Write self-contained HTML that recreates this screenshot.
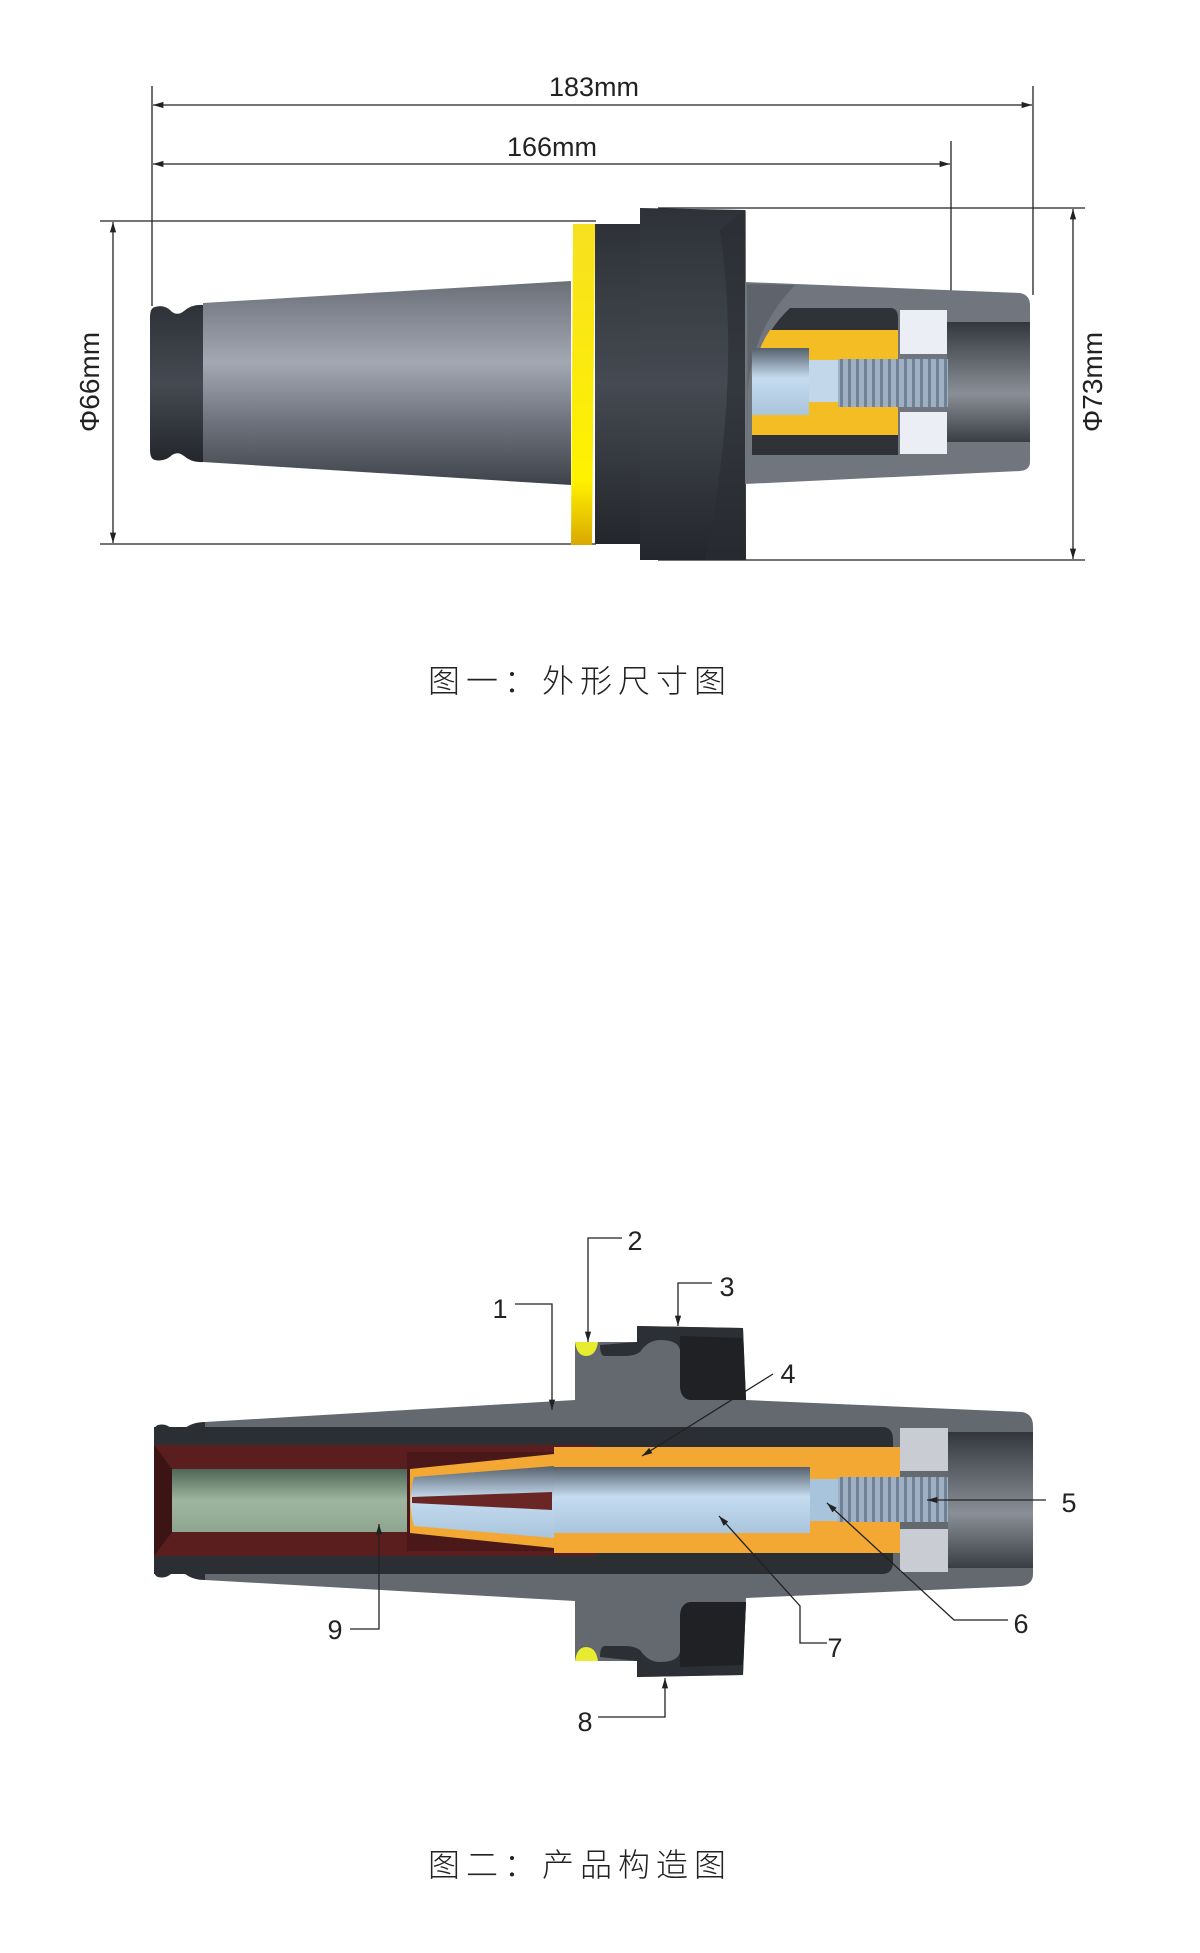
<!DOCTYPE html>
<html><head><meta charset="utf-8"><style>
html,body{margin:0;padding:0;background:#fff}
svg{display:block}
.t{font-family:"Liberation Sans",Arial,sans-serif;fill:#222}
.c{font-family:"Liberation Sans","Noto Sans CJK SC",sans-serif;font-size:32px;font-weight:300;fill:#222;letter-spacing:6px}
</style></head><body>
<svg width="1200" height="1953" viewBox="0 0 1200 1953" xmlns="http://www.w3.org/2000/svg">
<defs>
<linearGradient id="cone" x1="0" y1="0" x2="0" y2="1">
<stop offset="0" stop-color="#6a6f78"/><stop offset="0.4" stop-color="#a3a8b3"/><stop offset="0.7" stop-color="#6c717b"/><stop offset="1" stop-color="#3e434b"/></linearGradient>
<linearGradient id="dark" x1="0" y1="0" x2="0" y2="1">
<stop offset="0" stop-color="#2e3238"/><stop offset="0.5" stop-color="#454a52"/><stop offset="1" stop-color="#23262b"/></linearGradient>
<linearGradient id="yel" x1="0" y1="0" x2="0" y2="1">
<stop offset="0" stop-color="#f7e020"/><stop offset="0.8" stop-color="#fff200"/><stop offset="1" stop-color="#d9a800"/></linearGradient>
<linearGradient id="steel" x1="0" y1="0" x2="0" y2="1">
<stop offset="0" stop-color="#56606c"/><stop offset="0.45" stop-color="#c5dcf0"/><stop offset="1" stop-color="#a9c4dc"/></linearGradient>
<linearGradient id="green" x1="0" y1="0" x2="0" y2="1">
<stop offset="0" stop-color="#4e6656"/><stop offset="0.5" stop-color="#9fb59f"/><stop offset="1" stop-color="#8ea68f"/></linearGradient>
<linearGradient id="nose" x1="0" y1="0" x2="0" y2="1">
<stop offset="0" stop-color="#33373d"/><stop offset="0.6" stop-color="#8a8f97"/><stop offset="1" stop-color="#3a3e44"/></linearGradient>
<pattern id="thr" width="8" height="10" patternUnits="userSpaceOnUse"><rect width="8" height="10" fill="#9fb0c2"/><rect width="3" height="10" fill="#6f8196"/></pattern>
<marker id="ar" viewBox="0 0 10 10" refX="10" refY="5" markerWidth="8" markerHeight="8" orient="auto-start-reverse"><path d="M0,2 L10,5 L0,8 z" fill="#222"/></marker>
</defs>

<!-- ===== Figure 1 ===== -->
<g stroke="#222" stroke-width="1.3" fill="none">
<line x1="152" y1="86" x2="152" y2="306"/>
<line x1="1033" y1="86" x2="1033" y2="295"/>
<line x1="951" y1="141" x2="951" y2="332"/>
<line x1="153" y1="105" x2="1032" y2="105" marker-start="url(#ar)" marker-end="url(#ar)"/>
<line x1="153" y1="164" x2="950" y2="164" marker-start="url(#ar)" marker-end="url(#ar)"/>
<line x1="100" y1="221" x2="596" y2="221"/>
<line x1="100" y1="544" x2="596" y2="544"/>
<line x1="113" y1="222" x2="113" y2="543" marker-start="url(#ar)" marker-end="url(#ar)"/>
<line x1="658" y1="208" x2="1085" y2="208"/>
<line x1="658" y1="560" x2="1085" y2="560"/>
<line x1="1073" y1="209" x2="1073" y2="559" marker-start="url(#ar)" marker-end="url(#ar)"/>
</g>
<text class="t" x="594" y="96" font-size="27" text-anchor="middle">183mm</text>
<text class="t" x="552" y="156" font-size="27" text-anchor="middle">166mm</text>
<text class="t" font-size="28" text-anchor="middle" transform="translate(99,382) rotate(-90)">Φ66mm</text>
<text class="t" font-size="28" text-anchor="middle" transform="translate(1102,382) rotate(-90)">Φ73mm</text>

<path d="M155,307 Q165,304 172,312 Q178,316 184,311 Q192,304 203,305 L203,462 Q192,463 184,456 Q178,451 172,455 Q165,462 155,460 Q150,459 150,450 L150,317 Q150,308 155,307 Z" fill="url(#dark)"/>
<path d="M203,303 L571,281 L571,485 L203,462 Z" fill="url(#cone)"/>
<path d="M573,224 L595,224 L592,545 L571,545 Z" fill="url(#yel)"/>
<rect x="595" y="224" width="45" height="320" fill="url(#dark)"/>
<path d="M640,208 L745,210 L746,560 L640,560 Z" fill="url(#dark)"/>
<path d="M720,230 Q742,380 705,560 L746,560 L746,210 Z" fill="#2a2d32" opacity="0.6"/>
<path d="M745,282 L1020,293 Q1030,295 1030,305 L1030,462 Q1030,470 1020,471 L745,484 Z" fill="#71767e"/>
<path d="M947,322 L1030,322 L1030,442 L947,442 Z" fill="url(#nose)"/>
<path d="M795,285 Q752,330 748,390 L748,483 L747,284 Z" fill="#5f646c"/>
<path d="M790,308 L890,308 Q898,308 898,318 L898,455 L752,455 L752,390 Q756,340 790,308 Z" fill="#2f3338"/>
<path d="M770,330 L898,330 L898,435 L752,435 L752,380 Q756,350 770,330 Z" fill="#f5bd24"/>
<rect x="752" y="348" width="57" height="67" fill="url(#steel)"/>
<rect x="809" y="360" width="29" height="42" fill="#c2d8ea"/>
<rect x="838" y="359" width="110" height="48" fill="url(#thr)"/>
<rect x="900" y="310" width="47" height="44" fill="#ebeff5"/>
<rect x="900" y="412" width="47" height="42" fill="#ebeff5"/>

<text class="c" x="428" y="692">图一：外形尺寸图</text>

<!-- ===== Figure 2 ===== -->
<path d="M205,1422 L575,1400 L575,1342 L637,1342 L637,1326 L743,1328 L746,1400 L1022,1412 Q1033,1414 1033,1426 L1033,1574 Q1033,1584 1022,1586 L746,1598 L743,1675 L637,1677 L637,1661 L575,1661 L575,1601 L205,1580 Z" fill="#64686f"/>
<path d="M637,1326 L743,1328 L746,1400 L690,1400 Q680,1398 680,1385 L680,1350 Q678,1340 660,1340 Q648,1340 640,1352 Q634,1356 625,1356 L605,1356 Q600,1356 600,1345 L637,1342 Z" fill="#2c2f34"/>
<path d="M680,1336 L743,1338 L746,1400 L690,1400 Q680,1398 680,1385 Z" fill="#1f2125"/>
<path d="M637,1677 L743,1675 L746,1602 L690,1602 Q680,1604 680,1617 L680,1652 Q678,1662 660,1662 Q648,1662 640,1650 Q634,1646 625,1646 L605,1646 Q600,1646 600,1657 L637,1661 Z" fill="#2c2f34"/>
<path d="M680,1667 L743,1665 L746,1602 L690,1602 Q680,1604 680,1617 Z" fill="#1f2125"/>
<path d="M575,1342 L598,1342 Q596,1356 586,1356 Q577,1356 575,1342 Z" fill="#e8ec30"/>
<path d="M575,1661 L598,1661 Q596,1647 586,1647 Q577,1647 575,1661 Z" fill="#e8ec30"/>
<path d="M158,1425 Q166,1423 172,1429 Q178,1433 184,1429 Q192,1422 205,1422 L205,1580 Q192,1580 184,1573 Q178,1569 172,1573 Q166,1579 158,1577 Q154,1576 154,1568 L154,1434 Q154,1426 158,1425 Z" fill="#2b2e33"/>
<path d="M154,1427 L882,1427 Q893,1427 893,1440 L893,1562 Q893,1574 882,1574 L154,1574 Z" fill="#2b2e33"/>
<rect x="948" y="1432" width="85" height="136" fill="url(#nose)"/>
<rect x="154" y="1445" width="442" height="111" fill="#5a1e1e"/>
<path d="M154,1445 L172,1469 L172,1532 L154,1556 Z" fill="#3d1414"/>
<rect x="407" y="1452" width="189" height="99" fill="#4a1818"/>
<rect x="554" y="1447" width="346" height="106" fill="#f2a832"/>
<!-- collet -->
<path d="M410,1469 L554,1454 L596,1451 L596,1553 L554,1548 L410,1533 Z" fill="#f2a832"/>
<path d="M414,1477 L554,1466 L554,1538 L414,1526 Q407,1501 414,1477 Z" fill="url(#steel)"/>
<path d="M412,1497 L552,1492 L552,1510 L412,1503 Z" fill="#6a2525"/>
<rect x="172" y="1469" width="235" height="63" fill="url(#green)"/>
<rect x="554" y="1467" width="256" height="66" fill="url(#steel)"/>
<rect x="810" y="1479" width="28" height="42" fill="#a8c4dc"/>
<rect x="838" y="1477" width="110" height="45" fill="url(#thr)"/>
<rect x="900" y="1428" width="48" height="43" fill="#c9ccd3"/>
<rect x="900" y="1529" width="48" height="43" fill="#c9ccd3"/>

<g stroke="#222" stroke-width="1.3" fill="none">
<polyline points="515,1304 552,1304 552,1410" marker-end="url(#ar)"/>
<polyline points="622,1238 588,1238 588,1342" marker-end="url(#ar)"/>
<polyline points="712,1283 678,1283 678,1326" marker-end="url(#ar)"/>
<line x1="773" y1="1374" x2="642" y2="1456" marker-end="url(#ar)"/>
<line x1="1046" y1="1500" x2="927" y2="1500" marker-end="url(#ar)"/>
<polyline points="1008,1620 954,1620 827,1503" marker-end="url(#ar)"/>
<polyline points="827,1643 800,1643 800,1606 719,1516" marker-end="url(#ar)"/>
<polyline points="598,1717 665,1717 665,1678" marker-end="url(#ar)"/>
<polyline points="350,1629 379,1629 379,1524" marker-end="url(#ar)"/>
</g>
<g class="t" font-size="27" text-anchor="middle">
<text x="500" y="1318">1</text>
<text x="635" y="1250">2</text>
<text x="727" y="1296">3</text>
<text x="788" y="1383">4</text>
<text x="1069" y="1512">5</text>
<text x="1021" y="1633">6</text>
<text x="835" y="1657">7</text>
<text x="585" y="1731">8</text>
<text x="335" y="1639">9</text>
</g>

<text class="c" x="428" y="1876">图二：产品构造图</text>
</svg>
</body></html>
